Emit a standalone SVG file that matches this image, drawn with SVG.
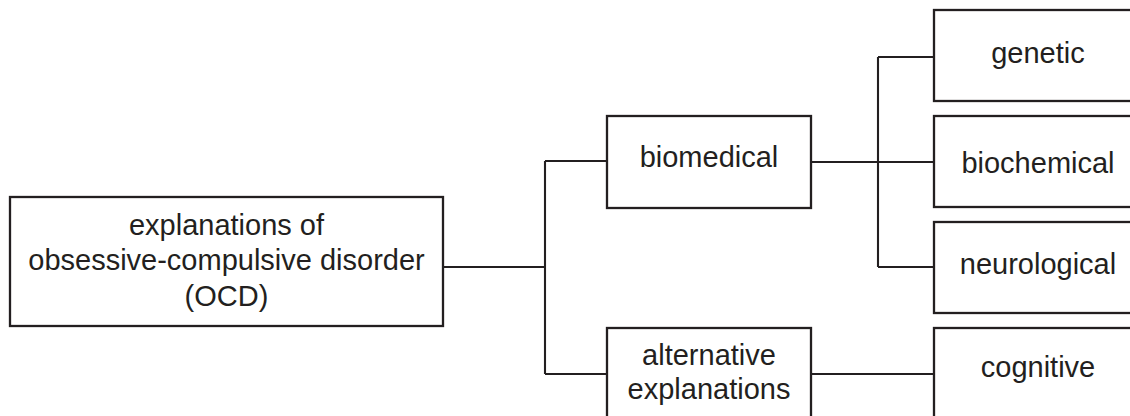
<svg xmlns="http://www.w3.org/2000/svg" width="1130" height="416" viewBox="0 0 1130 416">
<style>
.box{fill:#fff;stroke:#231f20;stroke-width:2.3}
.ln{fill:none;stroke:#231f20;stroke-width:2.1}
text{font-family:"Liberation Sans",Arial,sans-serif;font-size:29px;fill:#231f20;text-anchor:middle}
</style>
<rect width="1130" height="416" fill="#fff"/>
<g id="connectors">
<path class="ln" d="M443 267 H545 M545 161 V374 M545 161 H607 M545 374 H607"/>
<path class="ln" d="M811 162 H934 M878 57 V267 M878 57 H934 M878 267 H934"/>
<path class="ln" d="M811 374 H934"/>
</g>
<g id="root">
<rect class="box" x="10" y="197" width="433" height="129"/>
<text x="226.5" y="235">explanations of</text>
<text x="226.5" y="270">obsessive-compulsive disorder</text>
<text x="226.5" y="306">(OCD)</text>
</g>
<g id="biomedical">
<rect class="box" x="607" y="116" width="204" height="92"/>
<text x="709" y="167">biomedical</text>
</g>
<g id="alternative">
<rect class="box" x="607" y="328" width="204" height="92"/>
<text x="709" y="365">alternative</text>
<text x="709" y="399">explanations</text>
</g>
<g id="genetic">
<rect class="box" x="934" y="10" width="208" height="91"/>
<text x="1038" y="63">genetic</text>
</g>
<g id="biochemical">
<rect class="box" x="934" y="116" width="208" height="91"/>
<text x="1038" y="173">biochemical</text>
</g>
<g id="neurological">
<rect class="box" x="934" y="222" width="208" height="91"/>
<text x="1038" y="274">neurological</text>
</g>
<g id="cognitive">
<rect class="box" x="934" y="328" width="208" height="92"/>
<text x="1038" y="377">cognitive</text>
</g>
</svg>
